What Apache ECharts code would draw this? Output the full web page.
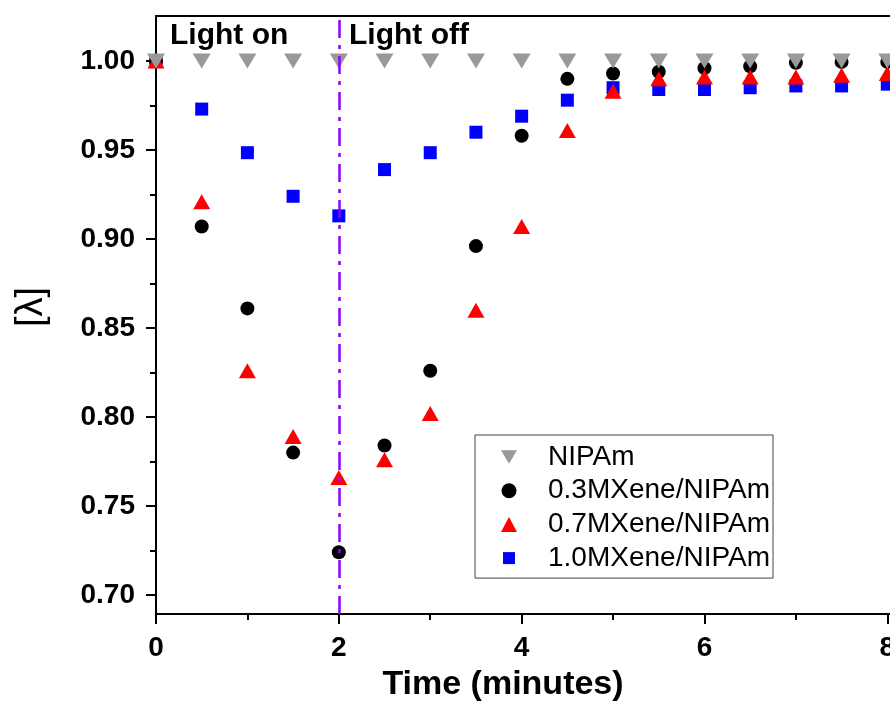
<!DOCTYPE html>
<html>
<head>
<meta charset="utf-8">
<script src="https://cdn.jsdelivr.net/npm/echarts@6/dist/echarts.min.js"></script>
<style>
html,body{margin:0;padding:0;background:#fff;overflow:hidden;width:890px;height:706px;}
#chart{width:1000px;height:706px;}
</style>
</head>
<body>
<div id="chart"></div>
<script>
// ---- data ----
const timeMin = [0, 0.5, 1, 1.5, 2, 2.5, 3, 3.5, 4, 4.5, 5, 5.5, 6, 6.5, 7, 7.5, 8];
const nipam   = [1.000, 1.000, 1.000, 1.000, 1.000, 1.000, 1.000, 1.000, 1.000, 1.000, 1.000, 1.000, 1.000, 1.000, 1.000, 1.000, 1.000];
const mx03    = [1.000, 0.907, 0.861, 0.780, 0.724, 0.784, 0.826, 0.896, 0.958, 0.990, 0.993, 0.994, 0.996, 0.997, 0.999, 0.9995, 0.9995];
const mx07    = [1.000, 0.921, 0.826, 0.789, 0.766, 0.776, 0.802, 0.860, 0.907, 0.961, 0.983, 0.990, 0.991, 0.991, 0.991, 0.992, 0.993];
const mx10    = [1.000, 0.973, 0.9485, 0.924, 0.913, 0.939, 0.9485, 0.960, 0.969, 0.978, 0.985, 0.984, 0.984, 0.985, 0.986, 0.986, 0.987];
const seriesNames = ['NIPAm', '0.3MXene/NIPAm', '0.7MXene/NIPAm', '1.0MXene/NIPAm'];
const yMajorTicks = [0.70, 0.75, 0.80, 0.85, 0.90, 0.95, 1.00];
const yMinorTicks = [0.725, 0.775, 0.825, 0.875, 0.925, 0.975];
const xMajorTicks = [0, 2, 4, 6, 8];
const xMinorTicks = [1, 3, 5, 7];
const lightSwitch = 2;
const annotations = ['Light on', 'Light off'];
const xTitle = 'Time (minutes)';
const yTitle = '[\u03bb]';

const FONT = "'Liberation Sans', Arial, sans-serif";
const pairs = arr => timeMin.map((t, i) => [t, arr[i]]);

const chart = echarts.init(document.getElementById('chart'), null, {renderer: 'canvas', width: 1000, height: 706});

const yMin = 0.6893, yMax = 1.0253;
const commonY = {type: 'value', min: yMin, max: yMax, splitLine: {show: false}};
const commonX = {type: 'value', min: 0, max: 8.5, splitLine: {show: false}};

chart.setOption({
  animation: false,
  backgroundColor: '#ffffff',
  grid: {left: 156, top: 16, width: 777, height: 598, show: true, borderColor: '#000', borderWidth: 2},
  xAxis: [
    Object.assign({}, commonX, {
      position: 'bottom',
      axisLine: {show: true, lineStyle: {color: '#000', width: 2}},
      axisTick: {show: true, inside: false, length: 10, lineStyle: {width: 2, color: '#000'}, customValues: xMajorTicks},
      axisLabel: {show: true, margin: 20, fontFamily: FONT, fontWeight: 'bold', fontSize: 28, color: '#000', customValues: xMajorTicks}
    }),
    Object.assign({}, commonX, {
      position: 'bottom',
      axisLine: {show: false},
      axisTick: {show: true, inside: false, length: 6, lineStyle: {width: 2, color: '#000'}, customValues: xMinorTicks},
      axisLabel: {show: false}
    })
  ],
  yAxis: [
    Object.assign({}, commonY, {
      position: 'left',
      axisLine: {show: true, lineStyle: {color: '#000', width: 2}},
      axisTick: {show: true, inside: false, length: 10, lineStyle: {width: 2, color: '#000'}, customValues: yMajorTicks},
      axisLabel: {show: true, margin: 21, fontFamily: FONT, fontWeight: 'bold', fontSize: 28, color: '#000',
        customValues: yMajorTicks, formatter: v => v.toFixed(2)}
    }),
    Object.assign({}, commonY, {
      position: 'left',
      axisLine: {show: false},
      axisTick: {show: true, inside: false, length: 6, lineStyle: {width: 2, color: '#000'}, customValues: yMinorTicks},
      axisLabel: {show: false}
    })
  ],
  legend: {
    left: 475, top: 435,
    orient: 'vertical',
    selectedMode: false,
    data: [
      {name: seriesNames[0], icon: 'path://M0,0L18,0L9,15Z'},
      {name: seriesNames[1]},
      {name: seriesNames[2]},
      {name: seriesNames[3], icon: 'path://M0,0M15,15M1.5,1.5L13.5,1.5L13.5,13.5L1.5,13.5Z'}
    ],
    itemWidth: 16, itemHeight: 15,
    itemGap: 0.7,
    padding: [5.5, 3, 3.5, 26],
    borderColor: '#444', borderWidth: 1,
    textStyle: {fontFamily: FONT, fontSize: 28, color: '#000', lineHeight: 27, padding: [0, 0, 6, 26]}
  },
  series: [
    {
      name: seriesNames[3], type: 'scatter', data: pairs(mx10),
      symbol: 'rect', symbolSize: 13, itemStyle: {color: '#0000ff', opacity: 1},
      markLine: {
        silent: true, symbol: ['none', 'none'], z: 10,
        label: {show: false},
        lineStyle: {color: '#8f00ff', width: 2.5, type: [18, 7, 4, 7]},
        data: [{xAxis: lightSwitch}]
      }
    },
    {name: seriesNames[1], type: 'scatter', data: pairs(mx03),
      symbol: 'circle', symbolSize: 14, itemStyle: {color: '#000000', opacity: 1}},
    {name: seriesNames[2], type: 'scatter', data: pairs(mx07),
      symbol: 'triangle', symbolSize: [17, 15], itemStyle: {color: '#ff0000', opacity: 1}},
    {name: seriesNames[0], type: 'scatter', data: pairs(nipam),
      symbol: 'triangle', symbolRotate: 180, symbolSize: [18, 15], itemStyle: {color: '#999999', opacity: 1}}
  ],
  graphic: [
    {type: 'text', x: 170, y: 36, style: {text: annotations[0], font: 'bold 30px ' + FONT, fill: '#000', verticalAlign: 'middle', align: 'left'}},
    {type: 'text', x: 349, y: 36, style: {text: annotations[1], font: 'bold 30px ' + FONT, fill: '#000', verticalAlign: 'middle', align: 'left'}},
    {type: 'text', x: 503, y: 685, style: {text: xTitle, font: 'bold 34px ' + FONT, fill: '#000', verticalAlign: 'middle', align: 'center'}},
    {type: 'text', x: 32, y: 307, rotation: Math.PI / 2, style: {text: yTitle, font: '38px ' + FONT, fill: '#000', verticalAlign: 'middle', align: 'center'}}
  ]
});
</script>
</body>
</html>
